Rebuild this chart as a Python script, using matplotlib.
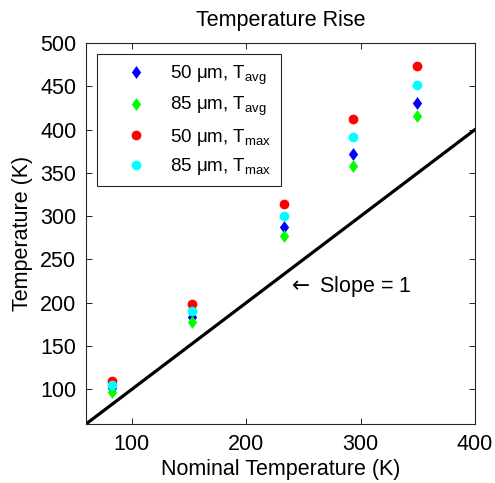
import matplotlib
matplotlib.use("Agg")
import matplotlib.pyplot as plt
from matplotlib.path import Path

plt.rcParams['font.family'] = ['Liberation Sans', 'DejaVu Sans']
plt.rcParams['mathtext.fontset'] = 'custom'
plt.rcParams['mathtext.rm'] = 'Liberation Sans'
plt.rcParams['mathtext.it'] = 'Liberation Sans'

nominal = [83, 153, 233, 293, 349]
t_avg_50 = [101, 184, 287, 372, 431]
t_avg_85 = [97, 178, 277, 358, 416]
t_max_50 = [110, 199, 314, 412, 473]
t_max_85 = [105, 191, 300, 391, 452]
labels = ['50 μm, T$_{\\mathrm{avg}}$', '85 μm, T$_{\\mathrm{avg}}$',
          '50 μm, T$_{\\mathrm{max}}$', '85 μm, T$_{\\mathrm{max}}$']
slope_line = [60, 400]
xticks = [100, 200, 300, 400]
yticks = [100, 150, 200, 250, 300, 350, 400, 450, 500]

FS = 15.5
LFS = 13.5

diamond = Path([(0, 1), (0.72, 0), (0, -1), (-0.72, 0), (0, 1)],
               [Path.MOVETO, Path.LINETO, Path.LINETO, Path.LINETO, Path.CLOSEPOLY])

fig = plt.figure(figsize=(4.95, 4.83), dpi=100)
ax = fig.add_axes([86/495, 1-424/483, (475-86)/495, (424-43)/483])

ax.plot(slope_line, slope_line, color='black', lw=2.3, zorder=1)
ax.plot(nominal, t_avg_50, ls='none', marker=diamond, color=(0, 0, 1), ms=9.3, mew=0, label=labels[0], zorder=2)
ax.plot(nominal, t_avg_85, ls='none', marker=diamond, color=(0, 1, 0), ms=9.3, mew=0, label=labels[1], zorder=3)
ax.plot(nominal, t_max_50, 'o', color=(1, 0, 0), ms=7, mew=0, label=labels[2], zorder=4)
ax.plot(nominal, t_max_85, 'o', color=(0, 1, 1), ms=7, mew=0, label=labels[3], zorder=5)

ax.set_xlim(60, 400)
ax.set_ylim(60, 500)
ax.set_xticks(xticks)
ax.set_yticks(yticks)
ax.tick_params(direction='in', top=True, right=True, labelsize=FS, length=4, width=0.6, pad=7)
for s in ax.spines.values():
    s.set_linewidth(0.8)
    s.set_color('#262626')

ax.set_title('Temperature Rise', fontsize=FS, pad=12)
ax.set_xlabel('Nominal Temperature (K)', fontsize=FS, labelpad=3)
ax.set_ylabel('Temperature (K)', fontsize=FS, labelpad=5)

ax.text(236, 219, '$\\leftarrow$ Slope = 1', fontsize=FS, ha='left', va='center',
        math_fontfamily='dejavusans')

leg = ax.legend(loc='upper left', bbox_to_anchor=(11/389, 1-11/381), fontsize=LFS,
                frameon=True, fancybox=False, edgecolor='#262626', framealpha=1,
                borderpad=0.5, labelspacing=0.45, handletextpad=0.2, handlelength=3.2,
                borderaxespad=0)
leg.get_frame().set_linewidth(0.8)

fig.savefig('out.png', dpi=100)
